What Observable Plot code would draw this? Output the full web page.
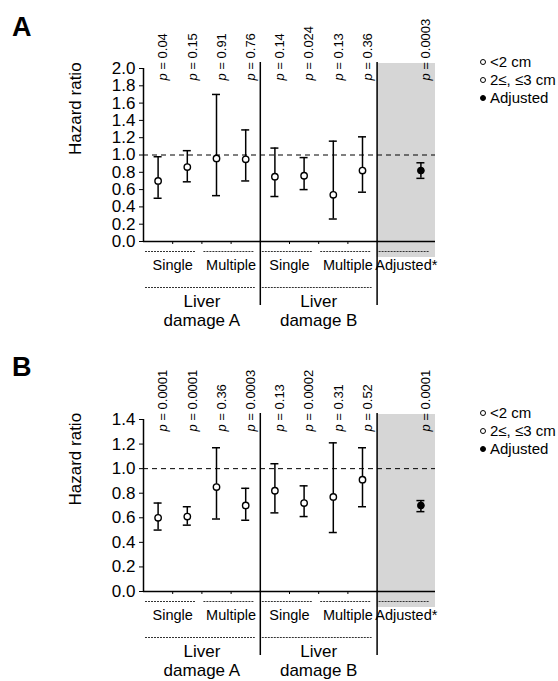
<!DOCTYPE html>
<html>
<head>
<meta charset="utf-8">
<script src="https://cdn.jsdelivr.net/npm/d3@7"></script>
<script src="https://cdn.jsdelivr.net/npm/@observablehq/plot@0.6"></script>
<style>
  body { margin: 0; background: white; }
  #wrap { position: relative; width: 558px; height: 681px; font-family: "Liberation Sans", Arial, sans-serif; color: black; }
  .panel { position: absolute; left: 0; }
  .letter { position: absolute; font-weight: bold; font-size: 27px; line-height: 1; }
  .legend { position: absolute; font-size: 15px; }
  .legend div { position: relative; height: 18px; line-height: 18px; white-space: nowrap; padding-left: 10px; }
  .legend span.sym { position: absolute; left: 0; top: 6px; width: 4px; height: 4px; border: 1.3px solid black; border-radius: 50%; background: white; }
  .legend span.sym.filled { background: black; }
</style>
</head>
<body>
<div id="wrap">
  <div class="panel" id="panelA" style="top:0px"></div>
  <div class="panel" id="panelB" style="top:340px"></div>
</div>
<script>
// ---- data ----
const panelLetters = ["A", "B"];
const damageGroups = ["Liver\ndamage A", "Liver\ndamage B"];
const nodules = ["Single", "Multiple"];
const sizes = ["<2 cm", "2\u2264, \u22643 cm"];
const adjustedLabel = "Adjusted*";
const legendLabels = ["<2 cm", "2\u2264, \u22643 cm", "Adjusted"];

const yTicksA = [0, 0.2, 0.4, 0.6, 0.8, 1.0, 1.2, 1.4, 1.6, 1.8, 2.0];
const yTicksB = [0, 0.2, 0.4, 0.6, 0.8, 1.0, 1.2, 1.4];

// order: damage A (Single <2, Single 2-3, Multiple <2, Multiple 2-3), damage B (same)
const hrA = [0.70, 0.86, 0.96, 0.95, 0.75, 0.76, 0.54, 0.82];
const loA = [0.50, 0.69, 0.53, 0.70, 0.52, 0.60, 0.26, 0.57];
const hiA = [0.98, 1.05, 1.70, 1.29, 1.08, 0.97, 1.16, 1.21];
const pA  = ["0.04", "0.15", "0.91", "0.76", "0.14", "0.024", "0.13", "0.36"];
const adjA = [0.82, 0.73, 0.91]; // hr, lo, hi
const pAdjA = "0.0003";

const hrB = [0.60, 0.61, 0.85, 0.70, 0.82, 0.72, 0.77, 0.91];
const loB = [0.50, 0.54, 0.59, 0.58, 0.64, 0.61, 0.48, 0.69];
const hiB = [0.72, 0.69, 1.17, 0.84, 1.04, 0.86, 1.21, 1.17];
const pB  = ["0.0001", "0.0001", "0.36", "0.0003", "0.13", "0.0002", "0.31", "0.52"];
const adjB = [0.70, 0.65, 0.74];
const pAdjB = "0.0001";

const reference = 1.0;

// ---- layout helpers (slots) ----
const perGroup = nodules.length * sizes.length;          // 4
const nSub = damageGroups.length * perGroup;             // 8
const adjSlot = nSub + 1;                                // 9 (one empty slot before)
const nSlots = adjSlot + 1;                              // 10

function buildRows(hr, lo, hi, p, adj, pAdj) {
  const rows = hr.map((v, i) => ({pos: i + 0.5, hr: v, lo: lo[i], hi: hi[i], p: p[i], adjusted: false}));
  rows.push({pos: adjSlot + 0.5, hr: adj[0], lo: adj[1], hi: adj[2], p: pAdj, adjusted: true});
  return rows;
}

function makePanel(rows, yTicks, height, marginTop, marginBottom) {
  const yMax = yTicks[yTicks.length - 1];
  const bounds = damageGroups.map((_, g) => (g + 1) * perGroup);
  const nodLabels = [];
  damageGroups.forEach((_, g) => nodules.forEach((n, k) => nodLabels.push({label: n, c: g * perGroup + k * sizes.length + sizes.length / 2, s: g * perGroup + k * sizes.length})));
  nodLabels.push({label: adjustedLabel, c: adjSlot, s: nSub});
  const dmg = damageGroups.map((d, g) => ({label: d, c: g * perGroup + perGroup / 2, s: g * perGroup}));
  const sub = rows.filter(d => !d.adjusted);
  const adj = rows.filter(d => d.adjusted);

  const svg = Plot.plot({
    width: 558,
    height,
    marginLeft: 143,
    marginRight: 123,
    marginTop,
    marginBottom,
    style: {fontFamily: "Liberation Sans, Arial, sans-serif", fontSize: "17px", color: "black", background: "white", overflow: "visible"},
    x: {domain: [0, nSlots], ticks: [1, 2, 3, 5, 6, 7, 9], tickFormat: () => "", tickSize: 3, label: null},
    y: {domain: [0, yMax], ticks: yTicks, tickFormat: d3.format(".1f"), tickSize: 4, tickPadding: 4, label: null},
    marks: [
      // shaded adjusted region
      Plot.rect([{x1: nSub, x2: nSlots}], {x1: "x1", x2: "x2", y1: 0, y2: yMax, insetTop: -5, insetBottom: -16, fill: "#d6d6d6"}),
      // reference line
      Plot.ruleY([reference], {stroke: "black", strokeWidth: 1, strokeDasharray: "5,4"}),
      // axis lines
      Plot.ruleY([0], {stroke: "black", strokeWidth: 1.5}),
      Plot.ruleX([0], {stroke: "black", strokeWidth: 1.5}),
      // group dividers
      Plot.ruleX(bounds, {y1: yMax, y2: 0, insetTop: -6, insetBottom: -64, stroke: "black", strokeWidth: 1.5}),
      // first level underline
      Plot.ruleY(nodLabels, {x1: d => d.s, x2: d => d.s + sizes.length, y: 0, dy: 10, insetLeft: 2, insetRight: 6, stroke: "#333", strokeWidth: 1, strokeDasharray: "2,1"}),
      Plot.text(nodLabels, {x: "c", text: "label", frameAnchor: "bottom", lineAnchor: "middle", dy: 24, fontSize: 14.5}),
      // second level underline
      Plot.ruleY(dmg, {x1: d => d.s, x2: d => d.s + perGroup, y: 0, dy: 46, insetLeft: 2, insetRight: 5, stroke: "#333", strokeWidth: 1, strokeDasharray: "2,1"}),
      Plot.text(dmg, {x: "c", text: "label", frameAnchor: "bottom", lineAnchor: "middle", dy: 69, fontSize: 17, lineHeight: 1.12}),
      // error bars
      Plot.ruleX(rows, {x: "pos", y1: "lo", y2: "hi", stroke: "black", strokeWidth: 1.5}),
      Plot.ruleY(rows, {x1: "pos", x2: "pos", y: "hi", insetLeft: -4, insetRight: -4, stroke: "black", strokeWidth: 1.5}),
      Plot.ruleY(rows, {x1: "pos", x2: "pos", y: "lo", insetLeft: -4, insetRight: -4, stroke: "black", strokeWidth: 1.5}),
      // points
      Plot.dot(sub, {x: "pos", y: "hr", r: 3.2, fill: "white", stroke: "black", strokeWidth: 1.4}),
      Plot.dot(adj, {x: "pos", y: "hr", r: 3.4, fill: "black", stroke: "black", strokeWidth: 1}),
      // p-values
      Plot.text(rows, {x: "pos", text: d => "p = " + d.p, frameAnchor: "top", dy: 12, rotate: -90, textAnchor: "start", fontSize: 13}),
      // y label
      Plot.text(["Hazard ratio"], {frameAnchor: "left", dx: -68, rotate: -90, fontSize: 17})
    ]
  });
  // italic p
  svg.querySelectorAll("text").forEach(t => {
    const s = t.textContent;
    if (s.startsWith("p = ")) {
      t.textContent = "";
      const ns = "http://www.w3.org/2000/svg";
      const a = document.createElementNS(ns, "tspan");
      a.setAttribute("font-style", "italic");
      a.textContent = "p";
      const b = document.createElementNS(ns, "tspan");
      b.textContent = s.slice(1);
      t.appendChild(a); t.appendChild(b);
    }
  });
  return svg;
}

const rowsA = buildRows(hrA, loA, hiA, pA, adjA, pAdjA);
const rowsB = buildRows(hrB, loB, hiB, pB, adjB, pAdjB);
document.getElementById("panelA").appendChild(makePanel(rowsA, yTicksA, 340, 68, 99));
document.getElementById("panelB").appendChild(makePanel(rowsB, yTicksB, 341, 79, 90));

// letters and legends
const wrap = document.getElementById("wrap");
const letterTops = [14, 354];
const legendTops = [53, 404];
panelLetters.forEach((L, i) => {
  const el = document.createElement("div");
  el.className = "letter";
  el.style.left = "12px";
  el.style.top = letterTops[i] + "px";
  el.textContent = L;
  wrap.appendChild(el);
  const lg = document.createElement("div");
  lg.className = "legend";
  lg.style.left = "480px";
  lg.style.top = legendTops[i] + "px";
  legendLabels.forEach((lab, j) => {
    const row = document.createElement("div");
    const sym = document.createElement("span");
    sym.className = "sym" + (j === legendLabels.length - 1 ? " filled" : "");
    row.appendChild(sym);
    row.appendChild(document.createTextNode(lab));
    lg.appendChild(row);
  });
  wrap.appendChild(lg);
});
</script>
</body>
</html>
